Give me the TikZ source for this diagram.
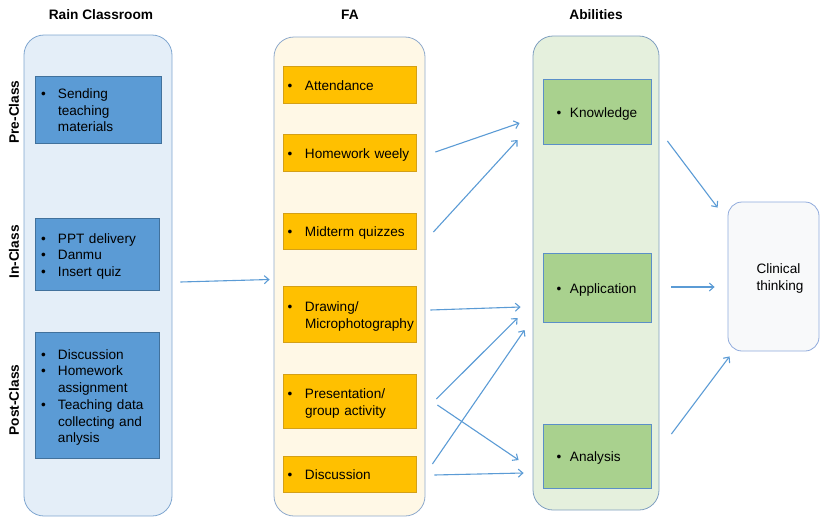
\documentclass[tikz,border=0pt]{standalone}
\usepackage{fontspec}
\setmainfont{Liberation Sans}
\usetikzlibrary{arrows.meta,calc}
\definecolor{lfill}{HTML}{E4EEF8}
\definecolor{lline}{HTML}{7FA6D0}
\definecolor{bfill}{HTML}{5B9BD5}
\definecolor{bline}{HTML}{41719C}
\definecolor{ffill}{HTML}{FFF8E6}
\definecolor{fline}{HTML}{8FAACC}
\definecolor{ofill}{HTML}{FFC000}
\definecolor{oline}{HTML}{D4A017}
\definecolor{gfill}{HTML}{E5F0DD}
\definecolor{gline}{HTML}{7F9FC0}
\definecolor{gbfill}{HTML}{A9D18E}
\definecolor{gbline}{HTML}{5B8FC8}
\definecolor{cfill}{HTML}{F8F9FA}
\definecolor{cline}{HTML}{8FAADC}
\definecolor{arrc}{HTML}{5B9BD5}
\newcommand\itm[2][17pt]{\makebox[#1][l]{\textbullet}\begin{tabular}[t]{@{}l@{}}#2\end{tabular}}
\newcommand\up[1][16.5pt]{\rule{0pt}{#1}}
\tikzset{
  base/.style={font=\fontsize{13.6}{16.5}\selectfont, inner ysep=0pt, align=left},
  container/.style={rounded corners=20pt, line width=0.8pt, minimum width=#1, inner sep=0pt},
  bluebox/.style={base, draw=bline, fill=bfill, line width=0.8pt, inner xsep=6pt},
  orbox/.style={base, draw=oline, fill=ofill, line width=0.8pt, minimum width=133pt, text width=124pt, inner xsep=4.5pt},
  grbox/.style={base, draw=gbline, fill=gbfill, line width=0.8pt, minimum width=108pt, text width=81pt, inner xsep=13.5pt},
  title/.style={font=\bfseries\fontsize{13.7}{16}\selectfont},
  side/.style={font=\bfseries\fontsize{13.7}{16}\selectfont, rotate=90},
  arr/.style={draw=arrc, line width=1.1pt, -{Straight Barb[length=4.5pt,width=8pt]}}
}
\begin{document}
\begin{tikzpicture}[x=1pt,y=-1pt]
\useasboundingbox (0,0) rectangle (820,517);
% containers
\node[container, draw=lline, fill=lfill, minimum width=148pt, minimum height=481pt] (rc) at (98,275.5) {};
\node[container, draw=fline, fill=ffill, minimum width=151pt, minimum height=479pt] (fa) at (349.5,276.5) {};
\node[container, draw=gline, fill=gfill, minimum width=126pt, minimum height=474pt] (ab) at (596,273) {};
\node[container, draw=cline, fill=cfill, rounded corners=14pt, minimum width=91pt, minimum height=149pt] (ct) at (773.5,276.5) {};
\node[base, anchor=west] (cttext) at (753,276.5) {\up[14pt]Clinical\\thinking};
% titles
\node[title] (t1) at (101,15) {Rain Classroom};
\node[title] (t2) at (350,15) {FA};
\node[title] (t3) at (596,15) {Abilities};
\node[side] (s1) at (14,112) {Pre-Class};
\node[side] (s2) at (14,252) {In-Class};
\node[side] (s3) at (14,400) {Post-Class};
% rain classroom boxes
\node[bluebox, minimum width=126pt, minimum height=67pt, text width=114pt] (pre) at (98,109.5)
  {\up\itm{Sending\\teaching\\materials}};
\node[bluebox, minimum width=124pt, minimum height=72pt, text width=112pt] (in) at (97,254)
  {\up\itm{PPT delivery}\\\itm{Danmu}\\\itm{Insert quiz}};
\node[bluebox, minimum width=124pt, minimum height=126pt, text width=112pt] (post) at (97,395)
  {\up\itm{Discussion}\\\itm{Homework\\assignment}\\\itm{Teaching data\\collecting and\\anlysis}};
% FA boxes
\node[orbox, minimum height=37pt] (att) at (349.5,84.5) {\up\itm[17.5pt]{Attendance}};
\node[orbox, minimum height=37pt] (hw) at (349.5,152.5) {\up\itm[17.5pt]{Homework weely}};
\node[orbox, minimum height=36pt] (mq) at (349.5,231) {\up\itm[17.5pt]{Midterm quizzes}};
\node[orbox, minimum height=56pt] (dr) at (349.5,314) {\up\itm[17.5pt]{Drawing/\\Microphotography}};
\node[orbox, minimum height=54pt] (pr) at (349.5,401) {\up\itm[17.5pt]{Presentation/\\group activity}};
\node[orbox, minimum height=36pt] (di) at (349.5,474) {\up\itm[17.5pt]{Discussion}};
% abilities boxes
\node[grbox, minimum height=65pt] (kn) at (597,111.5) {\up\itm[13.5pt]{Knowledge}};
\node[grbox, minimum height=69pt] (ap) at (597,287.5) {\up\itm[13.5pt]{Application}};
\node[grbox, minimum height=64pt] (an) at (597,456) {\up\itm[13.5pt]{Analysis}};
% arrows
\draw[arr] ($(rc.east)+(8,6.5)$) -- ($(fa.west)+(-4,3)$);
\draw[arr] ($(hw.east)+(19,-0.5)$) -- ($(kn.west)+(-23,11.5)$);
\draw[arr] ($(mq.east)+(17,1)$) -- ($(kn.west)+(-25,28.5)$);
\draw[arr] ($(dr.east)+(14,-4)$) -- ($(ap.west)+(-22,19.5)$);
\draw[arr] ($(pr.east)+(20,-2)$) -- ($(ap.west)+(-25,30.5)$);
\draw[arr] ($(di.east)+(16,-10)$) -- ($(ap.west)+(-18,42.5)$);
\draw[arr] ($(pr.east)+(21,4)$) -- ($(an.west)+(-24,4)$);
\draw[arr] ($(di.east)+(18,1)$) -- ($(an.west)+(-19,17)$);
\draw[arr] ($(kn.east)+(16,29.5)$) -- ($(ct.north west)+(-10,6)$);
\draw[arr] ($(ap.east)+(20,-0.5)$) -- ($(ct.west)+(-13,10.5)$);
\draw[arr] ($(an.east)+(20,-22)$) -- ($(ct.south west)+(2,5)$);
\end{tikzpicture}
\end{document}
